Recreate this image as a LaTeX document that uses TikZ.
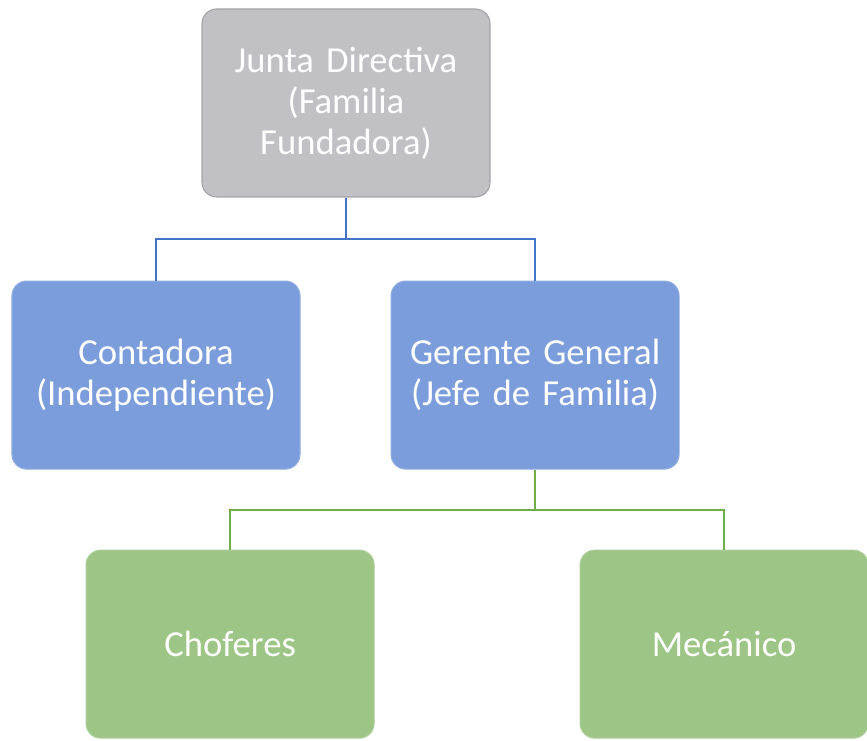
\documentclass[tikz,border=0pt]{standalone}
\usepackage{fontspec}
\setmainfont{Carlito}
\usetikzlibrary{positioning}
\definecolor{juntagray}{RGB}{192,192,197}
\definecolor{jefeblue}{RGB}{123,157,220}
\definecolor{obrerogreen}{RGB}{157,197,134}
\definecolor{linkblue}{RGB}{68,114,196}
\definecolor{linkgreen}{RGB}{112,173,71}
\tikzset{
	cargo/.style={
		rectangle, 
		rounded corners=11pt, 
		draw=white!70!black, line width=0.8pt,
		text=white,
		text width=205pt, 
		minimum width=216pt,
		minimum height=141pt, 
		align=center,
		font=\fontsize{27.5}{30.75}\selectfont},
	directivo/.style={cargo, fill=juntagray, draw=juntagray!85!black},
	mando/.style={cargo, fill=jefeblue, draw=jefeblue!85!white},
	operario/.style={cargo, fill=obrerogreen, draw=obrerogreen!85!white},
	rama/.style={draw, line width=1.5pt},
}

\begin{document}
\begin{tikzpicture}
		\useasboundingbox (0,0) rectangle (650.25pt,-555.75pt);
		\node[directivo] (junta) at (259.5pt,-77.25pt) {Junta Directiva\\(Familia\\Fundadora)};
		\node[mando, below=62.25pt of junta, xshift=-142.5pt] (contadora) {Contadora\\(Independiente)};
		\node[mando, right=67.5pt of contadora] (gerente) {Gerente General\\(Jefe de Familia)};
		\node[operario, below=60pt of gerente, xshift=-228.75pt] (choferes) {Choferes};
		\node[operario, right=153.75pt of choferes] (mecanico) {Mecánico};
		% lineas
		\draw[rama, linkblue] (junta.south) -- ++(0,-30.75pt) coordinate (nudo1) -| (contadora.north);
		\draw[rama, linkblue] (nudo1) -| (gerente.north);
		\draw[rama, linkgreen] (gerente.south) -- ++(0,-30pt) coordinate (nudo2) -| (choferes.north);
		\draw[rama, linkgreen] (nudo2) -| (mecanico.north);
		\end{tikzpicture}
\end{document}
